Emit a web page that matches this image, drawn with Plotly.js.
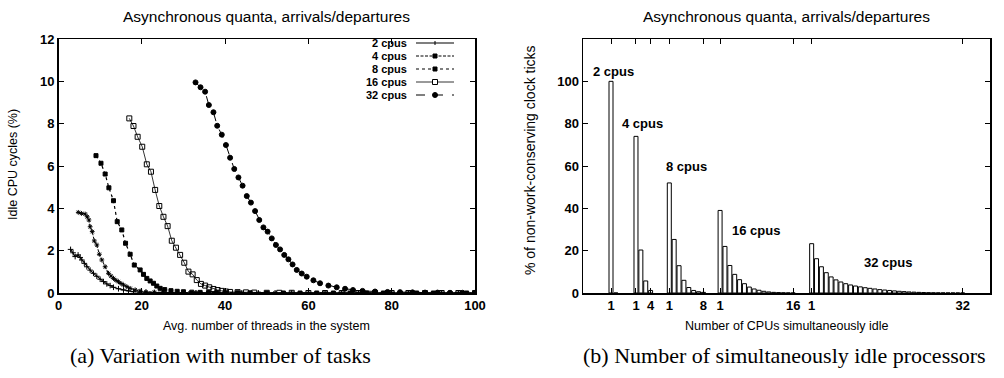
<!DOCTYPE html>
<html><head><meta charset="utf-8">
<script src="https://cdn.plot.ly/plotly-3.0.1.min.js"></script>
<style>html,body{margin:0;padding:0;background:#fff}#chart{width:1004px;height:378px}</style>
</head><body><div id="chart"></div>
<script>
// ---------- DATA ----------
const chartTitle = 'Asynchronous quanta, arrivals/departures';
const seriesNames = ['2 cpus', '4 cpus', '8 cpus', '16 cpus', '32 cpus'];

// (a) idle CPU cycles (%) vs avg. number of threads
const threads2 = [2.9,3.5,4.0,4.7,5.2,5.6,6.2,6.8,7.6,8.4,9.2,10.0,10.8,11.6,12.4,13.2,14.4,15.6,16.8,18.0,19.5,21,23,25,27,30,33,36,40,44,48,52,56,60,64,68,72,76,80,84,88,92,96,100];
const idle2    = [2.06,1.9,1.72,1.8,1.68,1.56,1.4,1.24,1.08,0.93,0.79,0.65,0.54,0.43,0.35,0.27,0.2,0.14,0.1,0.06,0.04,0.03,0.02,0.02,0.01,0.01,0.01,0.01,0.01,0,0,0,0,0,0,0,0,0,0,0,0,0,0,0];

const threads4 = [4.75,5.5,6.4,6.9,7.3,7.6,8.1,8.6,9.2,9.8,10.4,11.2,12.0,12.6,13.2,13.8,14.4,15.0,15.6,16.4,17.2,18.4,19.6,21,23,25,27,30,33,36,40,44,48,52,56,60,64,68,72,76,80,84,88,92,96,100];
const idle4    = [3.81,3.76,3.73,3.6,3.45,3.13,2.9,2.46,2.27,1.83,1.56,1.24,0.93,0.8,0.69,0.6,0.53,0.45,0.38,0.3,0.22,0.15,0.09,0.06,0.04,0.03,0.02,0.02,0.01,0.01,0.01,0,0,0,0,0,0,0,0,0,0,0,0,0,0,0];

const threads8 = [9.0,10.2,11.2,12.1,13.2,14.1,15.2,16.1,17.2,18.2,19.6,20.4,21.2,22.0,22.8,23.6,24.4,25.5,27,28.5,30,32,34,36,38,40,43,46,50,54,58,62,66,70,74,78,82,86,90,94,98,100];
const idle8    = [6.49,6.13,5.62,4.97,4.36,3.37,2.98,2.35,1.83,1.32,1.09,0.88,0.69,0.57,0.46,0.33,0.22,0.16,0.11,0.08,0.06,0.04,0.03,0.02,0.02,0.01,0.01,0.01,0,0,0,0,0,0,0,0,0,0,0,0,0,0];

const threads16 = [17.0,18.0,19.0,20.1,21.2,22.2,23.2,24.2,25.2,26.2,27.2,28.2,29.2,30.2,31.2,32.2,33.2,34.2,35.2,36.2,37.2,38.2,39.2,40.2,41.2,43,45,47,50,53,56,60,64,68,72,76,80,84,88,92,96,100];
const idle16    = [8.25,7.89,7.38,6.91,6.08,5.73,4.87,4.11,3.6,3.16,2.47,2.14,1.8,1.43,1.01,0.88,0.61,0.43,0.35,0.27,0.19,0.14,0.1,0.07,0.05,0.04,0.03,0.02,0.01,0.01,0.01,0,0,0,0,0,0,0,0,0,0,0];

const threads32 = [32.9,34.1,35.2,36.1,37.2,38.1,39.2,40.2,41.2,42.2,43.2,44.2,45.2,46.2,47.2,48.2,49.2,50.2,51.2,52.2,53.2,54.2,55.2,56.2,57.2,58.4,59.6,61.2,62.8,64.8,66.8,68.8,70.7,73,76,79,82,85,88,91,94,97,100];
const idle32    = [9.95,9.72,9.51,8.88,8.54,7.9,7.48,6.99,6.39,5.86,5.46,5.07,4.58,4.27,3.87,3.45,3.1,2.9,2.58,2.27,2.06,1.8,1.59,1.35,1.09,0.92,0.77,0.6,0.46,0.35,0.27,0.2,0.14,0.1,0.07,0.05,0.04,0.03,0.02,0.02,0.01,0.01,0.01];

// (b) % of non-work-conserving clock ticks by number of CPUs simultaneously idle (1..n)
const pct2  = [100, 0];
const pct4  = [74, 20.3, 5.7, 1.2];
const pct8  = [52, 25.3, 12.9, 6.0, 2.6, 1.2, 0.6, 0.3];
const pct16 = [39, 22, 13, 8.8, 6.3, 4.4, 2.8, 1.9, 1.3, 0.8, 0.5, 0.3, 0.2, 0.1, 0.05, 0.02];
const pct32 = [23.3, 16.2, 12.4, 9.6, 7.6, 6.2, 5.2, 4.4, 3.8, 3.3, 2.9, 2.5, 2.2, 1.9, 1.6, 1.4, 1.2, 1.0, 0.8, 0.65, 0.5, 0.4, 0.3, 0.22, 0.15, 0.1, 0.07, 0.05, 0.03, 0.02, 0.01, 0];
const tickLabelsB = ['1', '1', '4', '1', '8', '1', '16', '1', '32'];

// ---------- LAYOUT CONSTANTS ----------
const W = 1004, H = 378;
const px = p => p / W, py = p => 1 - p / H;
const groupStart = [0, 5.13, 11.97, 22.4, 41.2];   // x-axis slot of bar "1" of each group
const FONT = 'Liberation Sans, Arial, Helvetica, sans-serif';
const SERIF = 'Liberation Serif, Times New Roman, serif';

const curveX = [threads2, threads4, threads8, threads16, threads32];
const curveY = [idle2, idle4, idle8, idle16, idle32];
const styles = [
  {dash: 'solid', sym: 'cross-thin-open', size: 4, lw: 1.1},
  {dash: '3px,1.5px', sym: 'asterisk-open', size: 4, lw: 1},
  {dash: 'dot', sym: 'square', size: 4, lw: 1.2},
  {dash: 'solid', sym: 'square-open', size: 5, lw: 0.8},
  {dash: 'dash', sym: 'circle', size: 5, lw: 1}
];

const traces = [];
curveX.forEach((xs, i) => {
  traces.push({
    type: 'scatter', mode: 'lines+markers', name: seriesNames[i],
    x: xs, y: curveY[i], xaxis: 'x', yaxis: 'y', showlegend: false,
    line: {color: '#000', width: styles[i].lw, dash: styles[i].dash},
    marker: {symbol: styles[i].sym, size: styles[i].size, color: '#000',
             line: {color: '#000', width: 1}}
  });
});

const barGroups = [pct2, pct4, pct8, pct16, pct32];
const tickVals = [];
barGroups.forEach((vals, g) => {
  const xs = vals.map((_, k) => groupStart[g] + k);
  traces.push({
    type: 'bar', name: seriesNames[g], x: xs, y: vals, xaxis: 'x2', yaxis: 'y2',
    width: 0.82, showlegend: false,
    marker: {color: '#fff', line: {color: '#000', width: 1}}
  });
  tickVals.push(groupStart[g]);
  if (vals.length > 2) tickVals.push(groupStart[g] + vals.length - 1);
});

const axisCommon = {
  showline: true, linecolor: '#000', linewidth: 1.5, mirror: 'ticks',
  ticks: 'inside', ticklen: 5, tickwidth: 1, tickcolor: '#000',
  showgrid: false, zeroline: false,
  tickfont: {family: FONT, size: 13, color: '#000', weight: 'bold'}
};

const annotations = [];
const ann = (text, x, y, size, opts = {}) => annotations.push(Object.assign({
  text, x: px(x), y: py(y), xref: 'paper', yref: 'paper', showarrow: false,
  xanchor: 'center', yanchor: 'middle', font: {family: FONT, size, color: '#000'}
}, opts));

ann(chartTitle, 266.7, 16, 15.5);
ann(chartTitle, 786.5, 16, 15.5);
ann('Avg. number of threads in the system', 266.7, 326, 12.5);
ann('Number of CPUs simultaneously idle', 786.5, 326, 12.5);
ann('Idle CPU cycles (%)', 13, 165, 12.5, {textangle: -90});
ann('% of non-work-conserving clock ticks', 530, 160, 14, {textangle: -90});
ann('(a) Variation with number of tasks', 220, 355, 22, {font: {family: SERIF, size: 22, color: '#000'}});
ann('(b) Number of simultaneously idle processors', 784, 355, 22, {font: {family: SERIF, size: 22, color: '#000'}});

// bar-group labels (data coordinates of the right panel)
const barLabelPos = [[0.5, 104.5], [6.5, 80], [15.4, 59.8], [29.8, 29.4], [56.9, 14.5]];
barLabelPos.forEach((p, g) => annotations.push({
  text: seriesNames[g], x: p[0], y: p[1], xref: 'x2', yref: 'y2', showarrow: false,
  xanchor: 'center', yanchor: 'middle', font: {family: FONT, size: 13, color: '#000', weight: 'bold'}
}));

// legend drawn as in the reference: text on the left, line sample on the right
const shapes = [];
const legRows = [43, 56, 69, 82, 95];
const lx0 = 416, lx1 = 454, lm = 435;
seriesNames.forEach((n, i) => {
  const y = legRows[i];
  ann(n, 408, y, 11, {xanchor: 'right', borderpad: 0, font: {family: FONT, size: 11, color: '#000', weight: 'bold'}});
  shapes.push({type: 'line', xref: 'paper', yref: 'paper', x0: px(lx0), x1: px(lx1), y0: py(y), y1: py(y),
    line: {color: '#000', width: styles[i].lw, dash: styles[i].dash}});
  if (i === 0) {
    shapes.push({type: 'line', xref: 'paper', yref: 'paper', x0: px(lm), x1: px(lm), y0: py(y - 2), y1: py(y + 2), line: {color: '#000', width: 1}});
  } else if (i === 4) {
    shapes.push({type: 'circle', xref: 'paper', yref: 'paper', x0: px(lm - 2.5), x1: px(lm + 2.5), y0: py(y - 2.5), y1: py(y + 2.5), fillcolor: '#000', line: {color: '#000', width: 1}});
  } else {
    const r = i === 3 ? 2.5 : 2;
    shapes.push({type: 'rect', xref: 'paper', yref: 'paper', x0: px(lm - r), x1: px(lm + r), y0: py(y - r), y1: py(y + r),
      fillcolor: i === 3 ? '#fff' : '#000', line: {color: '#000', width: 1}});
  }
});

const layout = {
  width: W, height: H, margin: {l: 0, r: 0, t: 0, b: 0},
  paper_bgcolor: '#fff', plot_bgcolor: '#fff', showlegend: false, bargap: 0,
  font: {family: FONT, color: '#000'},
  xaxis: Object.assign({}, axisCommon, {domain: [px(58.5), px(475)], range: [0, 100], dtick: 20, anchor: 'y'}),
  yaxis: Object.assign({}, axisCommon, {domain: [1 - 293 / H, 1 - 39 / H], range: [0, 12], dtick: 2, anchor: 'x'}),
  xaxis2: Object.assign({}, axisCommon, {domain: [px(583), px(990)], range: [-5.75, 77.82], anchor: 'y2',
    tickmode: 'array', tickvals: tickVals, ticktext: tickLabelsB}),
  yaxis2: Object.assign({}, axisCommon, {domain: [1 - 293 / H, 1 - 39 / H], range: [0, 120], anchor: 'x2',
    tickmode: 'array', tickvals: [0, 20, 40, 60, 80, 100]}),
  annotations, shapes
};

Plotly.newPlot('chart', traces, layout, {staticPlot: true, displayModeBar: false});
</script>
</body></html>
